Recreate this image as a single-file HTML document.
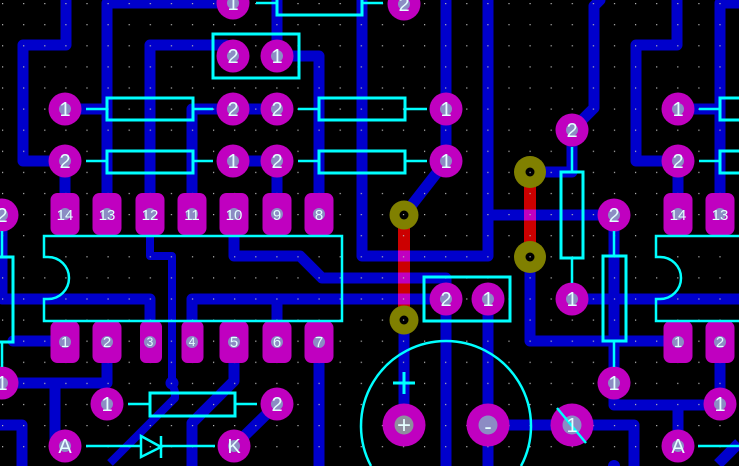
<!DOCTYPE html>
<html><head><meta charset="utf-8"><style>
html,body{margin:0;padding:0;background:#000;width:739px;height:466px;overflow:hidden;}
svg{display:block;overflow:hidden;}
text{font-family:"Liberation Sans",sans-serif;fill:#e4ffff;text-anchor:middle;}
</style></head><body>
<svg width="739" height="466" viewBox="0 0 739 466" xmlns="http://www.w3.org/2000/svg">
<defs>
<pattern id="g" x="2" y="3" width="21.1" height="21.1" patternUnits="userSpaceOnUse"><rect width="1.2" height="1.2" fill="#b8b8b8"/></pattern>
<clipPath id="c"><rect width="739" height="466"/></clipPath>
</defs>
<g clip-path="url(#c)">
<rect width="739" height="466" fill="#000"/>
<g fill="none" stroke="#0000cc" stroke-width="11" stroke-linejoin="round" stroke-linecap="round">
<polyline points="66,-6 66,45 23,45 23,161 65,161"/>
<polyline points="107,215 107,3 233,3"/>
<polyline points="150,215 150,45 226,45"/>
<polyline points="277,-6 277,56 319,56 319,215"/>
<polyline points="192,215 192,109 233,109"/>
<polyline points="233,109 277,109"/>
<polyline points="233,161 277,161 277,215"/>
<polyline points="65,215 65,161"/>
<polyline points="65,109 107,109"/>
<polyline points="362,-6 362,256 488,256 488,-6"/>
<polyline points="446,-6 446,161"/>
<polyline points="446,161 404,215"/>
<polyline points="488,215 614,215"/>
<polyline points="530,172 572,172 572,130"/>
<polyline points="572,130 594,108 594,6 600,0"/>
<polyline points="677,-6 677,45 636,45 636,161 678,161"/>
<polyline points="745,3 720,3 720,215"/>
<polyline points="678,109 720,109"/>
<polyline points="678,161 678,215"/>
<polyline points="614,215 614,405 720,405"/>
<polyline points="678,405 678,446"/>
<polyline points="720,341 720,404"/>
<polyline points="530,257 530,341 678,341"/>
<polyline points="572,299 745,299"/>
<polyline points="404,320 404,425"/>
<polyline points="488,425 634,425"/>
<polyline points="234,215 234,256 300,256 322,278 446,278 446,299"/>
<polyline points="192,342 192,299 446,299"/>
<polyline points="277,342 277,299"/>
<polyline points="2,215 2,299 150,299 150,342"/>
<polyline points="13,341 65,341"/>
<polyline points="107,342 107,383 2,383"/>
<polyline points="55,383 55,440"/>
<polyline points="-6,425 22,425"/>
<polyline points="234,342 234,381 192,423"/>
<polyline points="277,404 234,446"/>
<polyline points="150,236 150,256 172,256 172,383 175,392 175,398" stroke-width="8"/>
</g>
<g fill="none" stroke="#0000cc" stroke-width="11" stroke-linejoin="round" stroke-linecap="butt">
<polyline points="446,299 446,466"/>
<polyline points="488,299 488,466"/>
<polyline points="634,425 634,466"/>
<polyline points="22,425 22,466"/>
<polyline points="319,342 319,466"/>
<polyline points="192,423 192,466"/>
<polyline points="739,443 718,464"/>
<polyline points="175,398 110,463" stroke-width="8"/>
</g>
<path d="M608,466 A6,6 0 0 1 620,466 Z" fill="#0000cc"/>
<circle cx="172" cy="383" r="6.5" fill="#0000cc"/>
<g stroke="#cc0000" stroke-width="12">
<line x1="404" y1="215" x2="404" y2="320"/>
<line x1="530" y1="172" x2="530" y2="257"/>
</g>
<g fill="#c000c0">
<rect x="398" y="250.5" width="12" height="11"/>
<rect x="398" y="272.5" width="12" height="11"/>
<rect x="398" y="293.5" width="12" height="11"/>
<rect x="524" y="209.5" width="12" height="11"/>
</g>
<g fill="#808000">
<circle cx="404" cy="215" r="14.5"/>
<circle cx="404" cy="320" r="14.5"/>
<circle cx="530" cy="172" r="16"/>
<circle cx="530" cy="257" r="16"/>
</g>
<g fill="#000">
<circle cx="404" cy="215" r="4.5"/>
<circle cx="404" cy="320" r="4.5"/>
<circle cx="530" cy="172" r="4.5"/>
<circle cx="530" cy="257" r="4.5"/>
</g>
<rect width="739" height="466" fill="url(#g)"/>
<g fill="#c000c0">
<circle cx="233" cy="3" r="16.5"/>
<circle cx="404" cy="4" r="16.5"/>
<circle cx="233" cy="56" r="16.5"/>
<circle cx="277" cy="56" r="16.5"/>
<circle cx="65" cy="109" r="16.5"/>
<circle cx="233" cy="109" r="16.5"/>
<circle cx="277" cy="109" r="16.5"/>
<circle cx="446" cy="109" r="16.5"/>
<circle cx="65" cy="161" r="16.5"/>
<circle cx="233" cy="161" r="16.5"/>
<circle cx="277" cy="161" r="16.5"/>
<circle cx="446" cy="161" r="16.5"/>
<circle cx="572" cy="130" r="16.5"/>
<circle cx="614" cy="215" r="16.5"/>
<circle cx="2" cy="215" r="16.5"/>
<circle cx="446" cy="299" r="16.5"/>
<circle cx="488" cy="299" r="16.5"/>
<circle cx="572" cy="299" r="16.5"/>
<circle cx="2" cy="383" r="16.5"/>
<circle cx="614" cy="383" r="16.5"/>
<circle cx="107" cy="404" r="16.5"/>
<circle cx="277" cy="404" r="16.5"/>
<circle cx="720" cy="404" r="16.5"/>
<circle cx="65" cy="446" r="16.5"/>
<circle cx="234" cy="446" r="16.5"/>
<circle cx="678" cy="446" r="16.5"/>
<circle cx="678" cy="109" r="16.5"/>
<circle cx="678" cy="161" r="16.5"/>
<circle cx="404" cy="425" r="21.5"/>
<circle cx="488" cy="425" r="21.5"/>
<circle cx="572" cy="425" r="21.5"/>
<rect x="50.5" y="193" width="29" height="42" rx="7"/>
<rect x="92.5" y="193" width="29" height="42" rx="7"/>
<rect x="135.5" y="193" width="29" height="42" rx="7"/>
<rect x="177.5" y="193" width="29" height="42" rx="7"/>
<rect x="219.5" y="193" width="29" height="42" rx="7"/>
<rect x="262.5" y="193" width="29" height="42" rx="7"/>
<rect x="304.5" y="193" width="29" height="42" rx="7"/>
<rect x="663.5" y="193" width="29" height="42" rx="7"/>
<rect x="705.5" y="193" width="29" height="42" rx="7"/>
<rect x="50.5" y="321" width="29" height="42" rx="7"/>
<rect x="92.5" y="321" width="29" height="42" rx="7"/>
<rect x="140" y="321" width="22" height="42" rx="6"/>
<rect x="181.5" y="321" width="22" height="42" rx="6"/>
<rect x="219.5" y="321" width="29" height="42" rx="7"/>
<rect x="262.5" y="321" width="29" height="42" rx="7"/>
<rect x="304.5" y="321" width="29" height="42" rx="7"/>
<rect x="663.5" y="321" width="29" height="42" rx="7"/>
<rect x="705.5" y="321" width="29" height="42" rx="7"/>
</g>
<g fill="#8c8cc4">
<circle cx="233" cy="3" r="6"/><circle cx="404" cy="4" r="6"/>
<circle cx="233" cy="56" r="6"/><circle cx="277" cy="56" r="6"/>
<circle cx="65" cy="109" r="6"/><circle cx="233" cy="109" r="6"/><circle cx="277" cy="109" r="6"/><circle cx="446" cy="109" r="6"/>
<circle cx="65" cy="161" r="6"/><circle cx="233" cy="161" r="6"/><circle cx="277" cy="161" r="6"/><circle cx="446" cy="161" r="6"/>
<circle cx="572" cy="130" r="6"/><circle cx="614" cy="215" r="6"/><circle cx="2" cy="215" r="6"/>
<circle cx="446" cy="299" r="6"/><circle cx="488" cy="299" r="6"/><circle cx="572" cy="299" r="6"/>
<circle cx="2" cy="383" r="6"/><circle cx="614" cy="383" r="6"/>
<circle cx="107" cy="404" r="6"/><circle cx="277" cy="404" r="6"/><circle cx="720" cy="404" r="6"/>
<circle cx="65" cy="446" r="6"/><circle cx="234" cy="446" r="6"/><circle cx="678" cy="446" r="6"/>
<circle cx="678" cy="109" r="6"/><circle cx="678" cy="161" r="6"/>
<circle cx="65" cy="214" r="6"/><circle cx="107" cy="214" r="6"/><circle cx="150" cy="214" r="6"/><circle cx="192" cy="214" r="6"/><circle cx="234" cy="214" r="6"/><circle cx="277" cy="214" r="6"/><circle cx="319" cy="214" r="6"/><circle cx="678" cy="214" r="6"/><circle cx="720" cy="214" r="6"/>
<circle cx="65" cy="342" r="6"/><circle cx="107" cy="342" r="6"/><circle cx="150" cy="342" r="6"/><circle cx="192" cy="342" r="6"/><circle cx="234" cy="342" r="6"/><circle cx="277" cy="342" r="6"/><circle cx="319" cy="342" r="6"/><circle cx="678" cy="342" r="6"/><circle cx="720" cy="342" r="6"/>
<circle cx="488" cy="425" r="9.5"/><circle cx="572" cy="425" r="9.5"/>
</g>
<circle cx="404" cy="425" r="9.5" fill="#8e8e9e"/>
<g fill="none" stroke="#00ffff" stroke-width="3">
<rect x="107" y="98" width="86" height="22"/>
<rect x="107" y="151" width="86" height="22"/>
<rect x="319" y="98" width="86" height="22"/>
<rect x="319" y="151" width="86" height="22"/>
<rect x="277" y="-8" width="85" height="23"/>
<rect x="720" y="98" width="86" height="22"/>
<rect x="720" y="151" width="86" height="22"/>
<rect x="150" y="393" width="85" height="23"/>
<rect x="561" y="172" width="22" height="86"/>
<rect x="603" y="256" width="23" height="85"/>
<rect x="-9" y="257" width="22" height="85"/>
<rect x="213" y="34" width="86" height="44"/>
<rect x="424" y="277" width="86" height="44"/>
<path d="M44,236 L342,236 L342,321 L44,321 L44,299 L48,299 A21,21 0 0 0 48,257 L44,257 Z" stroke-width="2.5"/>
<path d="M745,236 L656,236 L656,257 L660,257 A21,21 0 0 1 660,299 L656,299 L656,321 L745,321" stroke-width="2.5"/>
<path d="M371,466 A85,85 0 1 1 521,466" stroke-width="2.5"/>
</g>
<g stroke="#00ffff" stroke-width="2.5">
<line x1="86" y1="109" x2="107" y2="109"/><line x1="193" y1="109" x2="213" y2="109"/>
<line x1="298" y1="109" x2="319" y2="109"/><line x1="405" y1="109" x2="427" y2="109"/>
<line x1="699" y1="109" x2="720" y2="109"/>
<line x1="86" y1="161" x2="107" y2="161"/><line x1="193" y1="161" x2="213" y2="161"/>
<line x1="298" y1="161" x2="319" y2="161"/><line x1="405" y1="161" x2="427" y2="161"/>
<line x1="699" y1="161" x2="720" y2="161"/>
<line x1="256" y1="3" x2="277" y2="3"/><line x1="362" y1="3" x2="383" y2="3"/>
<line x1="128" y1="404" x2="150" y2="404"/><line x1="235" y1="404" x2="257" y2="404"/>
<line x1="572" y1="147" x2="572" y2="172"/><line x1="572" y1="258" x2="572" y2="283"/>
<line x1="614" y1="231" x2="614" y2="256"/><line x1="614" y1="341" x2="614" y2="367"/>
<line x1="2" y1="231" x2="2" y2="257"/><line x1="2" y1="342" x2="2" y2="367"/>
<line x1="86" y1="446" x2="141" y2="446"/><line x1="161" y1="446" x2="215" y2="446"/>
<line x1="161" y1="436" x2="161" y2="458"/>
<line x1="698" y1="446" x2="739" y2="446"/>
<line x1="393" y1="383" x2="415" y2="383" stroke-width="3"/><line x1="404" y1="372" x2="404" y2="394" stroke-width="3"/>
<line x1="557" y1="408" x2="586" y2="443"/>
</g>
<polygon points="141,436 141,457 161,447" fill="none" stroke="#00ffff" stroke-width="2.5"/>
<g font-size="20">
<text x="233" y="10">1</text><text x="404" y="11">2</text>
<text x="233" y="63">2</text><text x="277" y="63">1</text>
<text x="65" y="116">1</text><text x="233" y="116">2</text><text x="277" y="116">2</text><text x="446" y="116">1</text>
<text x="65" y="168">2</text><text x="233" y="168">1</text><text x="277" y="168">2</text><text x="446" y="168">1</text>
<text x="572" y="137">2</text><text x="614" y="222">2</text><text x="2" y="222">2</text>
<text x="446" y="306">2</text><text x="488" y="306">1</text><text x="572" y="306">1</text>
<text x="2" y="390">1</text><text x="614" y="390">1</text>
<text x="107" y="411">1</text><text x="277" y="411">2</text><text x="720" y="411">1</text>
<text x="65" y="453">A</text><text x="234" y="453">K</text><text x="678" y="453">A</text>
<text x="678" y="116">1</text><text x="678" y="168">2</text>
<text x="572" y="432">1</text>
</g>
<text x="404" y="433" font-size="24">+</text>
<text x="488" y="434" font-size="22">-</text>
<g font-size="15">
<text x="65" y="220">14</text><text x="107" y="220">13</text><text x="150" y="220">12</text><text x="192" y="220">11</text><text x="234" y="220">10</text><text x="277" y="220">9</text><text x="319" y="220">8</text>
<text x="678" y="220">14</text><text x="720" y="220">13</text>
<text x="65" y="347">1</text><text x="107" y="347">2</text><text x="234" y="347">5</text><text x="277" y="347">6</text><text x="319" y="347">7</text>
<text x="678" y="347">1</text><text x="720" y="347">2</text>
</g>
<g font-size="12">
<text x="150" y="346">3</text><text x="192" y="346">4</text>
</g>
</g>
</svg>
</body></html>
